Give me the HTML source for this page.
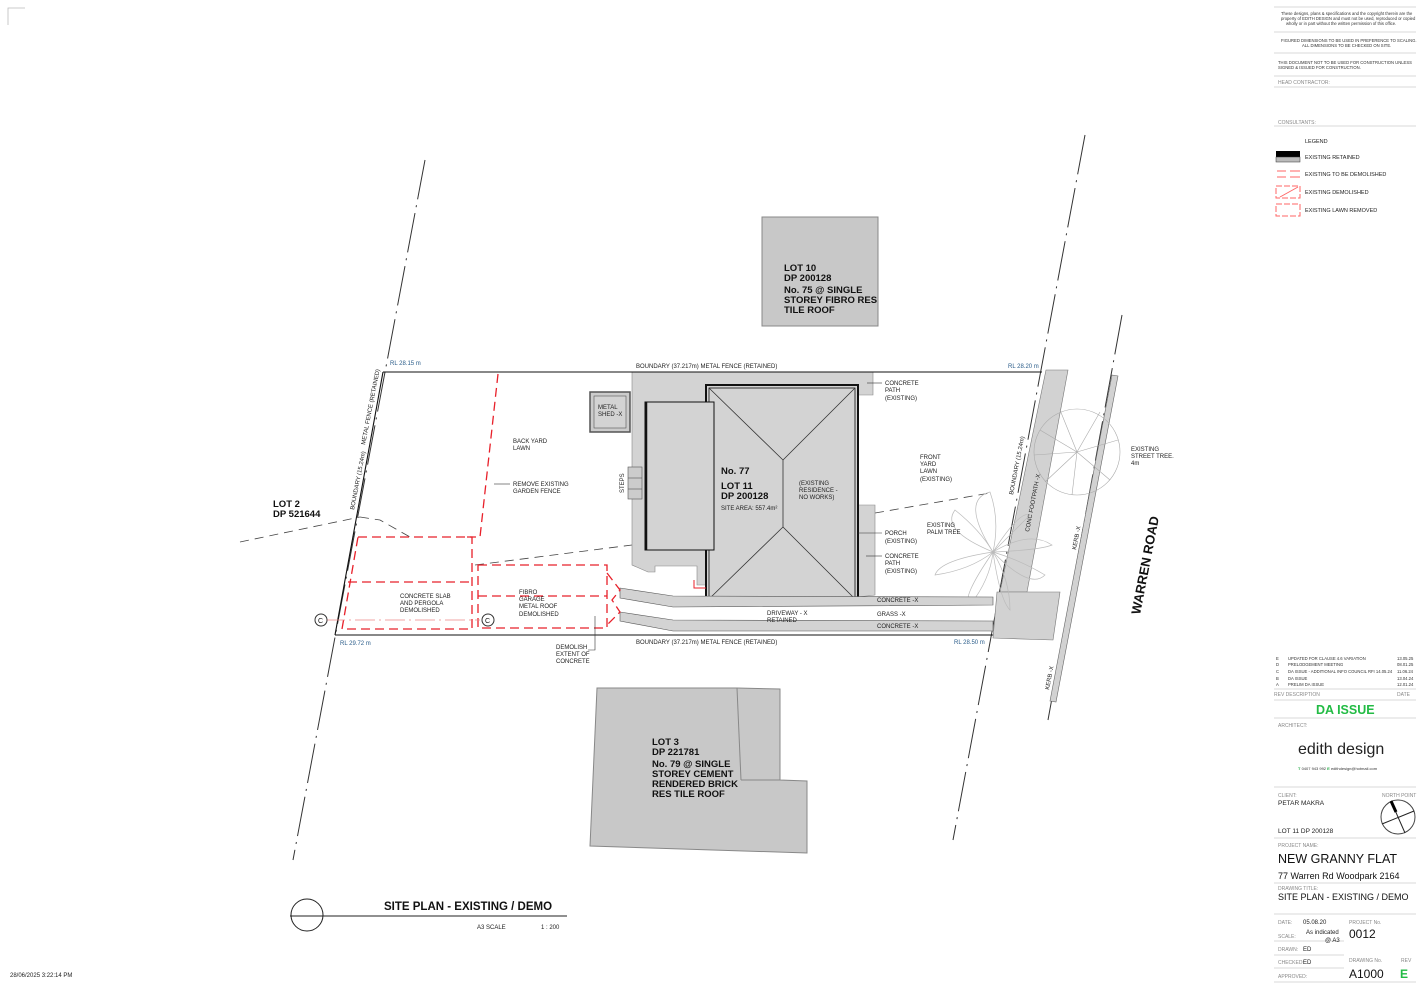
<!DOCTYPE html>
<html><head><meta charset="utf-8"><style>
html,body{margin:0;padding:0;background:#fff;}
svg{display:block;font-family:"Liberation Sans",sans-serif;}
.s{font-size:6px;fill:#222}
.b{font-weight:bold;fill:#111}
.g{fill:#888;font-size:5px}
</style></head><body>
<svg width="1422" height="989" viewBox="0 0 1422 989" xmlns="http://www.w3.org/2000/svg">
<rect width="1422" height="989" fill="#fff"/>
<path d="M8 25 V8 H25" stroke="#bbb" fill="none" stroke-width="0.8"/>

<g stroke="#333" stroke-width="1" stroke-dasharray="40,6,2,6" fill="none">
<line x1="425" y1="160" x2="293" y2="860"/>
<line x1="1085" y1="135" x2="953" y2="840"/>
<line x1="1122" y1="315" x2="1048" y2="720"/>
</g>
<g stroke="#444" stroke-width="0.8" stroke-dasharray="9,6" fill="none">
<line x1="240" y1="542" x2="360" y2="517"/>
<polyline points="360,517 380,520 410,537"/>
<line x1="475" y1="565" x2="632" y2="545"/>
<line x1="875" y1="513" x2="990" y2="493"/>
</g>

<rect x="762" y="217" width="116" height="109" fill="#c8c8c8" stroke="#888"/>
<text class="b" font-size="9.5" x="784" y="271">LOT 10</text>
<text class="b" font-size="9.5" x="784" y="281">DP 200128</text>
<text class="b" font-size="9.5" x="784" y="293">No. 75 @ SINGLE</text>
<text class="b" font-size="9.5" x="784" y="303">STOREY FIBRO RES</text>
<text class="b" font-size="9.5" x="784" y="313">TILE ROOF</text>
<polygon points="597,688 737,688 780,689 780,780 807,781 807,853 590,846" fill="#c8c8c8" stroke="#888"/>
<line x1="737" y1="688" x2="741" y2="780" stroke="#888"/>
<line x1="741" y1="780" x2="780" y2="780" stroke="#888"/>
<text class="b" font-size="9.5" x="652" y="745">LOT 3</text>
<text class="b" font-size="9.5" x="652" y="755">DP 221781</text>
<text class="b" font-size="9.5" x="652" y="767">No. 79 @ SINGLE</text>
<text class="b" font-size="9.5" x="652" y="777">STOREY CEMENT</text>
<text class="b" font-size="9.5" x="652" y="787">RENDERED BRICK</text>
<text class="b" font-size="9.5" x="652" y="797">RES TILE ROOF</text>

<polygon points="1046,370 1068,370 1027,592 1000,592" fill="#d2d2d2" stroke="#777" stroke-width="0.6"/>
<polygon points="997,592 1060,592 1053,640 993,638" fill="#d2d2d2" stroke="#777" stroke-width="0.6"/>
<polygon points="1112,375 1118,376 1056,702 1050,701" fill="#d2d2d2" stroke="#666" stroke-width="0.6"/>
<g stroke="#aaa" stroke-width="0.6" fill="none">
<circle cx="1077" cy="452" r="43"/>
<line x1="1077" y1="452" x2="1040" y2="430"/><line x1="1077" y1="452" x2="1060" y2="410"/><line x1="1077" y1="452" x2="1100" y2="412"/><line x1="1077" y1="452" x2="1118" y2="440"/><line x1="1077" y1="452" x2="1110" y2="480"/><line x1="1077" y1="452" x2="1072" y2="495"/><line x1="1077" y1="452" x2="1045" y2="482"/><line x1="1077" y1="452" x2="1034" y2="455"/>
</g>
<g stroke="#bbb" stroke-width="0.7" fill="none">
<path d="M993 552 Q960 500 990 492 Q1000 520 993 552Z"/>
<path d="M993 552 Q940 530 955 510 Q980 530 993 552Z"/>
<path d="M993 552 Q940 560 935 575 Q970 570 993 552Z"/>
<path d="M993 552 Q960 600 970 605 Q990 580 993 552Z"/>
<path d="M993 552 Q1000 600 1010 610 Q1010 580 993 552Z"/>
<path d="M993 552 Q1030 590 1045 575 Q1020 560 993 552Z"/>
<path d="M993 552 Q1040 550 1052 545 Q1030 530 993 552Z"/>
<path d="M993 552 Q1020 510 1030 515 Q1015 530 993 552Z"/>
</g>

<polygon points="632,372 873,372 873,395 858,395 858,505 875,505 875,595 858,597 858,602 706,602 706,585 697,585 697,566 655,566 655,572 648,572 632,565" fill="#d3d3d3" stroke="#888" stroke-width="0.6"/>
<rect x="628" y="467" width="14" height="32" fill="#ccc" stroke="#555" stroke-width="0.6"/>
<line x1="628" y1="478" x2="642" y2="478" stroke="#555" stroke-width="0.6"/><line x1="628" y1="489" x2="642" y2="489" stroke="#555" stroke-width="0.6"/>
<rect x="590" y="392" width="40" height="40" fill="#ccc" stroke="#555" stroke-width="1.5"/>
<rect x="594" y="396" width="32" height="32" fill="#d3d3d3" stroke="#555" stroke-width="0.6"/>
<text class="s" x="598" y="409">METAL</text><text class="s" x="598" y="416">SHED -X</text>
<rect x="706" y="385" width="152" height="217" fill="#d3d3d3" stroke="#111" stroke-width="2"/>
<rect x="709" y="388" width="146" height="211" fill="none" stroke="#111" stroke-width="0.8"/>
<rect x="645" y="402" width="69" height="148" fill="#d3d3d3" stroke="#111" stroke-width="1"/>
<line x1="646" y1="402" x2="646" y2="550" stroke="#111" stroke-width="2.5"/>
<g stroke="#333" stroke-width="0.8"><line x1="709" y1="388" x2="783" y2="460"/><line x1="855" y1="388" x2="783" y2="460"/><line x1="783" y1="460" x2="783" y2="527"/><line x1="709" y1="599" x2="783" y2="527"/><line x1="855" y1="599" x2="783" y2="527"/></g>
<text class="b" font-size="9.5" x="721" y="474">No. 77</text>
<text class="b" font-size="9.5" x="721" y="489">LOT 11</text>
<text class="b" font-size="9.5" x="721" y="499">DP 200128</text>
<text class="s" x="721" y="510">SITE AREA: 557.4m²</text>
<text class="s" x="799" y="485">(EXISTING</text><text class="s" x="799" y="492">RESIDENCE -</text><text class="s" x="799" y="499">NO WORKS)</text>

<polygon points="620,588 673,596 993,597 993,605 673,607 620,598" fill="#d3d3d3" stroke="#555" stroke-width="0.6"/>
<polygon points="620,612 673,620 993,621 993,631 673,631 620,621" fill="#d3d3d3" stroke="#555" stroke-width="0.6"/>

<g stroke="#111" stroke-width="1.1">
<line x1="383" y1="372" x2="1042" y2="372"/>
<line x1="335" y1="635" x2="993" y2="635"/>
<line x1="383" y1="372" x2="335" y2="635"/>
</g>

<g stroke="#e8202a" stroke-width="1.3" stroke-dasharray="9,5" fill="none">
<polyline points="498,374 480,537 462,537"/>
<polygon points="358,537 472,537 472,629 342,629"/>
<polygon points="478,565 607,565 607,628 478,628"/>
<line x1="348" y1="582" x2="472" y2="582"/>
<line x1="478" y1="596" x2="607" y2="596"/>
<polyline points="607,573 620,590 612,600 620,612 607,625"/>
</g>
<polyline points="694,580 694,588 706,588" stroke="#e8202a" fill="none" stroke-width="1"/>
<line x1="325" y1="620" x2="480" y2="620" stroke="#e88" stroke-width="0.7" stroke-dasharray="20,4,2,4"/>
<circle cx="321" cy="620" r="6" fill="#fff" stroke="#333"/><text x="318" y="623" font-size="7" fill="#111">C</text>
<circle cx="488" cy="620" r="6" fill="#fff" stroke="#333"/><text x="485" y="623" font-size="7" fill="#111">C</text>

<g class="s">
<text x="390" y="365" fill="#2b5d8a">RL 28.15 m</text>
<text x="1008" y="368" fill="#2b5d8a">RL 28.20 m</text>
<text x="340" y="645" fill="#2b5d8a">RL 29.72 m</text>
<text x="954" y="644" fill="#2b5d8a">RL 28.50 m</text>
<text x="636" y="368">BOUNDARY (37.217m)  METAL FENCE (RETAINED)</text>
<text x="636" y="644">BOUNDARY (37.217m)  METAL FENCE (RETAINED)</text>
<text x="513" y="443">BACK YARD</text><text x="513" y="450">LAWN</text>
<text x="513" y="486">REMOVE EXISTING</text><text x="513" y="493">GARDEN FENCE</text>
<text x="400" y="598">CONCRETE SLAB</text><text x="400" y="605">AND PERGOLA</text><text x="400" y="612">DEMOLISHED</text>
<text x="519" y="594">FIBRO</text><text x="519" y="601">GARAGE</text><text x="519" y="608">METAL ROOF</text><text x="519" y="616">DEMOLISHED</text>
<text x="556" y="649">DEMOLISH</text><text x="556" y="656">EXTENT OF</text><text x="556" y="663">CONCRETE</text>
<text x="767" y="615">DRIVEWAY - X</text><text x="767" y="622">RETAINED</text>
<text x="877" y="602">CONCRETE -X</text><text x="877" y="616">GRASS -X</text><text x="877" y="628">CONCRETE -X</text>
<text x="885" y="385">CONCRETE</text><text x="885" y="392">PATH</text><text x="885" y="400">(EXISTING)</text>
<text x="920" y="459">FRONT</text><text x="920" y="466">YARD</text><text x="920" y="473">LAWN</text><text x="920" y="481">(EXISTING)</text>
<text x="927" y="527">EXISTING</text><text x="927" y="534">PALM TREE</text>
<text x="885" y="535">PORCH</text><text x="885" y="543">(EXISTING)</text>
<text x="885" y="558">CONCRETE</text><text x="885" y="565">PATH</text><text x="885" y="573">(EXISTING)</text>
<text x="1131" y="451">EXISTING</text><text x="1131" y="458">STREET TREE.</text><text x="1131" y="465">4m</text>
<text transform="translate(624,493) rotate(-90)">STEPS</text>
<text transform="translate(354,510) rotate(-79)">BOUNDARY (15.24m)</text>
<text transform="translate(365,445) rotate(-79)">METAL FENCE (RETAINED)</text>
<text transform="translate(1013,495) rotate(-79)">BOUNDARY (15.24m)</text>
<text transform="translate(1029,532) rotate(-79)">CONC FOOTPATH -X</text>
<text transform="translate(1076,550) rotate(-79)">KERB -X</text>
<text transform="translate(1049,690) rotate(-79)">KERB -X</text>
</g>
<g stroke="#333" stroke-width="0.6" fill="none">
<line x1="494" y1="484" x2="510" y2="484"/><line x1="867" y1="383" x2="882" y2="383"/><line x1="858" y1="533" x2="882" y2="533"/><line x1="866" y1="556" x2="882" y2="556"/>
<polyline points="588,650 595,650 595,616"/>
</g>
<text transform="translate(1140,615) rotate(-79)" class="b" font-size="13">WARREN ROAD</text>
<text class="b" font-size="9.5" x="273" y="507">LOT 2</text>
<text class="b" font-size="9.5" x="273" y="517">DP 521644</text>

<circle cx="307" cy="915" r="16" fill="none" stroke="#222"/>
<line x1="290" y1="916" x2="567" y2="916" stroke="#222"/>
<text class="b" font-size="11.5" x="384" y="910">SITE PLAN - EXISTING / DEMO</text>
<text class="s" font-size="7" x="477" y="929">A3 SCALE</text><text class="s" font-size="7" x="541" y="929">1 : 200</text>
<text class="s" x="10" y="977">28/06/2025 3:22:14 PM</text>

<g stroke="#ccc" stroke-width="0.8">
<line x1="1274" y1="7" x2="1416" y2="7"/><line x1="1274" y1="32" x2="1416" y2="32"/><line x1="1274" y1="53" x2="1416" y2="53"/><line x1="1274" y1="76" x2="1416" y2="76"/><line x1="1274" y1="87" x2="1416" y2="87"/><line x1="1274" y1="126" x2="1416" y2="126"/>
<line x1="1274" y1="689" x2="1416" y2="689"/><line x1="1274" y1="700" x2="1416" y2="700"/><line x1="1274" y1="718" x2="1416" y2="718"/><line x1="1274" y1="787" x2="1416" y2="787"/><line x1="1274" y1="838" x2="1416" y2="838"/><line x1="1274" y1="883" x2="1416" y2="883"/><line x1="1274" y1="914" x2="1416" y2="914"/><line x1="1274" y1="941" x2="1344" y2="941"/><line x1="1274" y1="955" x2="1344" y2="955"/><line x1="1274" y1="968" x2="1344" y2="968"/><line x1="1274" y1="982" x2="1416" y2="982"/>
</g>
<g font-size="4.2" fill="#333">
<text x="1281" y="15">These designs, plans &amp; specifications and the copyright therein are the</text>
<text x="1281" y="20">property of EDITH DESIGN and must not be used, reproduced or copied</text>
<text x="1286" y="25">wholly or in part without the written permission of this office.</text>
<text x="1281" y="42">FIGURED DIMENSIONS TO BE USED IN PREFERENCE TO SCALING.</text>
<text x="1302" y="47">ALL DIMENSIONS TO BE CHECKED ON SITE.</text>
<text x="1278" y="64">THIS DOCUMENT NOT TO BE USED FOR CONSTRUCTION UNLESS</text>
<text x="1278" y="69">SIGNED &amp; ISSUED FOR CONSTRUCTION.</text>
</g>
<text class="g" x="1278" y="84">HEAD CONTRACTOR:</text>
<text class="g" x="1278" y="124">CONSULTANTS:</text>
<g font-size="5.5" fill="#222">
<text x="1305" y="143">LEGEND</text>
<text x="1305" y="159">EXISTING RETAINED</text>
<text x="1305" y="176">EXISTING TO BE DEMOLISHED</text>
<text x="1305" y="194">EXISTING DEMOLISHED</text>
<text x="1305" y="212">EXISTING LAWN REMOVED</text>
</g>
<rect x="1276" y="151" width="24" height="6" fill="#000"/><rect x="1276" y="157" width="24" height="5" fill="#bbb" stroke="#333" stroke-width="0.5"/>
<g stroke="#f66" stroke-width="1" fill="none">
<line x1="1277" y1="171" x2="1286" y2="171"/><line x1="1290" y1="171" x2="1300" y2="171"/><line x1="1277" y1="177" x2="1286" y2="177"/><line x1="1290" y1="177" x2="1300" y2="177"/>
<rect x="1276" y="186" width="24" height="12" stroke-dasharray="6,2"/><line x1="1280" y1="197" x2="1298" y2="187"/>
<rect x="1276" y="204" width="24" height="12" stroke-dasharray="6,2"/>
</g>
<g font-size="4.2" fill="#333">
<text x="1276" y="660">E</text><text x="1288" y="660">UPDATED FOR CLAUSE 4.6 VARIATION</text><text x="1397" y="660">13.05.25</text>
<text x="1276" y="666">D</text><text x="1288" y="666">PRELODGEMENT MEETING</text><text x="1397" y="666">08.01.25</text>
<text x="1276" y="673">C</text><text x="1288" y="673">DA ISSUE - ADDITIONAL INFO COUNCIL RFI 14.05.24</text><text x="1397" y="673">11.06.24</text>
<text x="1276" y="680">B</text><text x="1288" y="680">DA ISSUE</text><text x="1397" y="680">13.04.24</text>
<text x="1276" y="686">A</text><text x="1288" y="686">PRELIM DA ISSUE</text><text x="1397" y="686">12.01.24</text>
</g>
<text class="g" x="1274" y="696">REV   DESCRIPTION</text><text class="g" x="1397" y="696">DATE</text>
<text x="1316" y="714" font-size="12.5" font-weight="bold" fill="#22bb44">DA ISSUE</text>
<text class="g" x="1278" y="727">ARCHITECT:</text>
<text x="1298" y="754" font-size="16" fill="#222">edith design</text>
<text x="1298" y="770" font-size="4" fill="#333"><tspan fill="#2a4" font-weight="bold">T</tspan>  0407 943 992  <tspan fill="#2a4" font-weight="bold">E</tspan>  edithdesign@hotmail.com</text>
<text class="g" x="1278" y="797">CLIENT:</text><text class="g" x="1382" y="797">NORTH POINT</text>
<text x="1278" y="805" font-size="6.5" fill="#222">PETAR MAKRA</text>
<text x="1278" y="833" font-size="6.5" fill="#222">LOT 11  DP 200128</text>
<circle cx="1398" cy="817" r="17" fill="none" stroke="#444"/>
<line x1="1391" y1="801" x2="1405" y2="833" stroke="#222" stroke-width="1"/><line x1="1391" y1="801" x2="1396" y2="812" stroke="#000" stroke-width="3"/><line x1="1382" y1="824" x2="1414" y2="811" stroke="#222"/>
<text class="g" x="1278" y="847">PROJECT NAME:</text>
<text x="1278" y="863" font-size="12.5" fill="#111">NEW GRANNY FLAT</text>
<text x="1278" y="879" font-size="9" fill="#111">77 Warren Rd Woodpark 2164</text>
<text class="g" x="1278" y="890">DRAWING TITLE:</text>
<text x="1278" y="900" font-size="9" fill="#111">SITE PLAN - EXISTING / DEMO</text>
<text class="g" x="1278" y="924">DATE:</text><text x="1303" y="924" font-size="6" fill="#222">05.08.20</text>
<text class="g" x="1349" y="924">PROJECT No.</text>
<text class="g" x="1278" y="938">SCALE:</text><text x="1306" y="934" font-size="6" fill="#222">As indicated</text><text x="1325" y="942" font-size="6" fill="#222">@ A3</text>
<text x="1349" y="938" font-size="12" fill="#111">0012</text>
<text class="g" x="1278" y="951">DRAWN:</text><text x="1303" y="951" font-size="6" fill="#222">ED</text>
<text class="g" x="1278" y="964">CHECKED:</text><text x="1303" y="964" font-size="6" fill="#222">ED</text>
<text class="g" x="1349" y="962">DRAWING No.</text><text class="g" x="1401" y="962">REV</text>
<text class="g" x="1278" y="978">APPROVED:</text>
<text x="1349" y="978" font-size="12" fill="#111">A1000</text>
<text x="1400" y="978" font-size="12" font-weight="bold" fill="#22bb44">E</text>
</svg>
</body></html>
